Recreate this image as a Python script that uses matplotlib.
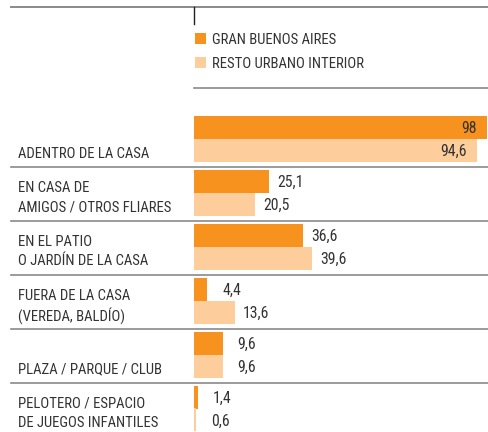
import matplotlib
matplotlib.use("Agg")
import matplotlib.pyplot as plt
from matplotlib.patches import Rectangle
from matplotlib.transforms import blended_transform_factory
from matplotlib import font_manager

categories = [
    "ADENTRO DE LA CASA",
    "EN CASA DE\nAMIGOS / OTROS FLIARES",
    "EN EL PATIO\nO JARDÍN DE LA CASA",
    "FUERA DE LA CASA\n(VEREDA, BALDÍO)",
    "PLAZA / PARQUE / CLUB",
    "PELOTERO / ESPACIO\nDE JUEGOS INFANTILES",
]
gba = [98, 25.1, 36.6, 4.4, 9.6, 1.4]
resto = [94.6, 20.5, 39.6, 13.6, 9.6, 0.6]
series_names = ["GRAN BUENOS AIRES", "RESTO URBANO INTERIOR"]

names = {f.name for f in font_manager.fontManager.ttflist}
fam = [f for f in ["Liberation Sans Narrow", "Roboto Condensed", "Liberation Sans"] if f in names] + ["DejaVu Sans"]
plt.rcParams["font.family"] = fam

DARK = "#F7921E"
LIGHT = "#FDCE9B"
TXT = "#333333"
GRID = "#8a8a8a"

W, H = 488, 432
fig = plt.figure(figsize=(W / 100, H / 100), dpi=100)
x0 = 194
ax = fig.add_axes([x0 / W, 0, (W - x0) / W, 1])
pitch = 53.9
y_first = 127.5
xmax = 98 * 294 / 293
ax.set_ylim((H - y_first) / pitch, -y_first / pitch)
ax.set_xlim(0, xmax)
ax.axis("off")
upx = xmax / 294  # data units per pixel

bh = 23 / pitch
for i, (cat, a, b) in enumerate(zip(categories, gba, resto)):
    ax.barh(i, a, height=bh, color=DARK, align="center", linewidth=0)
    ax.barh(i + bh, b, height=bh, color=LIGHT, align="center", linewidth=0)
    for val, yy in ((a, i), (b, i + bh)):
        s = f"{val:g}".replace(".", ",")
        if val > 80:
            ax.text(val - 10 * upx, yy + 1 / pitch, s, ha="right", va="center", fontsize=11.3, color=TXT)
        else:
            gap = 15 if val < 12 else 8
            ax.text(val + gap * upx, yy + 1 / pitch, s, ha="left", va="center", fontsize=11.3, color=TXT)
    lines = cat.split("\n")
    for k, ln in enumerate(reversed(lines)):
        ax.text(-176 / 294, i + bh + 3 / pitch - k * 19.5 / pitch, ln,
                transform=blended_transform_factory(ax.transAxes, ax.transData),
                ha="left", va="center", fontsize=10.6, color=TXT)
    if i < len(categories) - 1:
        ax.axhline(i + 39.5 / pitch, xmin=(11 - x0) / 294, xmax=1, color=GRID, lw=1.2, clip_on=False)

# top rules
ax.axhline(-120.5 / pitch, xmin=(11 - x0) / 294, xmax=1, color=GRID, lw=1.4, clip_on=False)
ax.axhline(-39.5 / pitch, xmin=0, xmax=1, color=GRID, lw=1.2, clip_on=False)
ax.plot([0, 0], [-120.5 / pitch, -103.5 / pitch], color="#222222", lw=1, clip_on=False)

# legend
fx = fig.transFigure
for k, (nm, col) in enumerate(zip(series_names, [DARK, LIGHT])):
    yc = 38.5 + k * 24
    fig.patches.append(Rectangle(((x0 + 1) / W, 1 - (yc + 5.5) / H), 11 / W, 11 / H,
                                 transform=fx, color=col, linewidth=0))
    fig.text(212 / W, 1 - (yc + 1.5) / H, nm, ha="left", va="center", fontsize=10.6, color=TXT)

fig.savefig("out.png", dpi=100)
